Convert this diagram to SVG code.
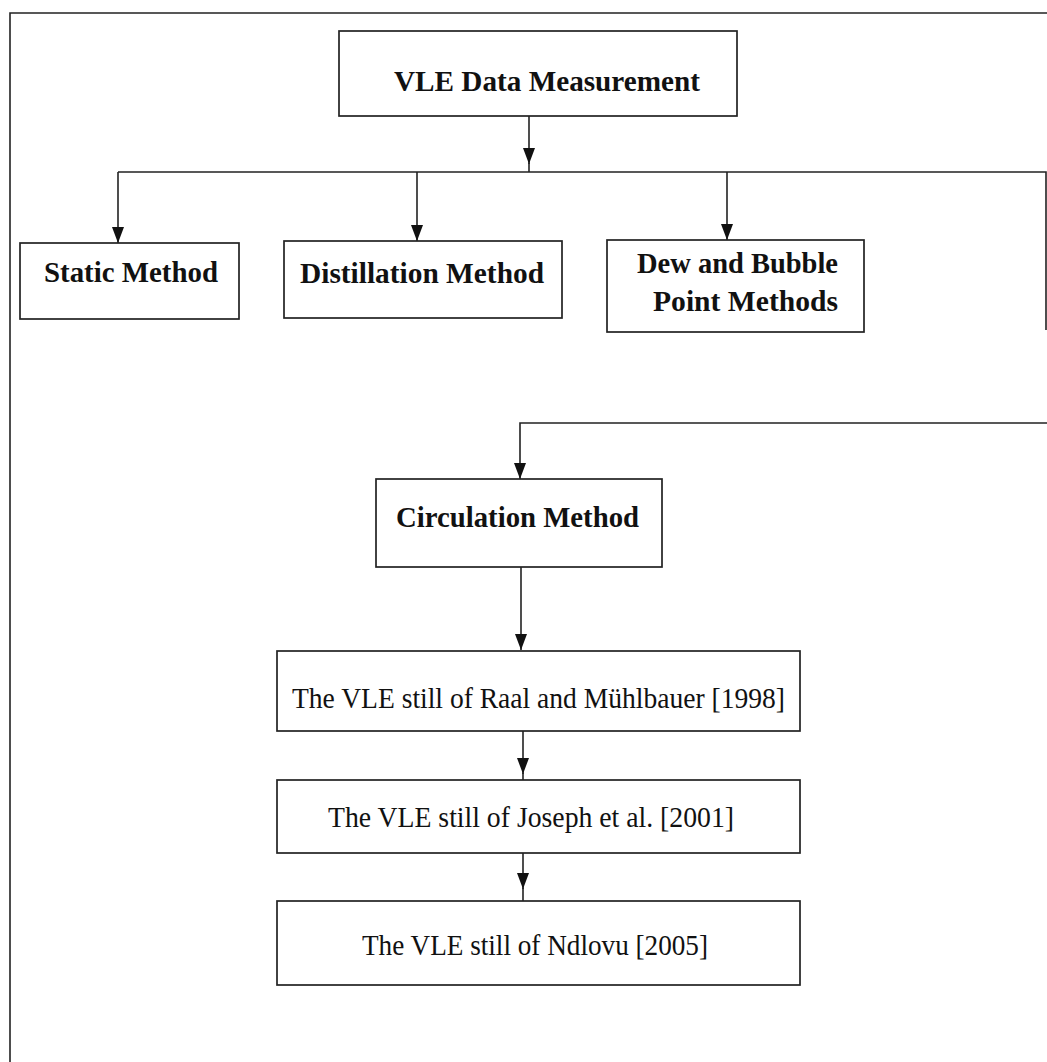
<svg xmlns="http://www.w3.org/2000/svg" width="1047" height="1062" viewBox="0 0 1047 1062">
<style>
.box{fill:#fff;stroke:#222;stroke-width:1.7}
.ln{fill:none;stroke:#222;stroke-width:1.6}
.b{font-family:"Liberation Serif","Times New Roman",serif;font-weight:bold;font-size:29px;fill:#111}
.r{font-family:"Liberation Serif","Times New Roman",serif;font-size:29px;fill:#111}
</style>
<defs>
<marker id="ah" viewBox="0 0 16 12" refX="16" refY="6" markerWidth="16" markerHeight="12" markerUnits="userSpaceOnUse" orient="auto">
<path d="M0,0 L16,6 L0,12 z" fill="#111"/>
</marker>
</defs>
<rect width="1047" height="1062" fill="#fff"/>
<g id="frame">
<path class="ln" d="M10,1062 L10,13 L1047,13"/>
</g>
<g id="connectors">
<path class="ln" d="M529,116 L529,164" marker-end="url(#ah)"/>
<path class="ln" d="M529,163 L529,172"/>
<path class="ln" d="M118,172 L1046,172 L1046,330"/>
<path class="ln" d="M118,172 L118,243" marker-end="url(#ah)"/>
<path class="ln" d="M417,172 L417,241" marker-end="url(#ah)"/>
<path class="ln" d="M727,172 L727,240" marker-end="url(#ah)"/>
<path class="ln" d="M1047,423 L520,423 L520,479" marker-end="url(#ah)"/>
<path class="ln" d="M521,567 L521,650" marker-end="url(#ah)"/>
<path class="ln" d="M523,731 L523,774" marker-end="url(#ah)"/>
<path class="ln" d="M523,773 L523,780"/>
<path class="ln" d="M523,853 L523,889" marker-end="url(#ah)"/>
<path class="ln" d="M523,888 L523,901"/>
</g>
<g id="vle">
<rect class="box" x="339" y="31" width="398" height="85"/>
<text class="b" x="394" y="91" textLength="306" lengthAdjust="spacingAndGlyphs">VLE Data Measurement</text>
</g>
<g id="static">
<rect class="box" x="20" y="243" width="219" height="76"/>
<text class="b" x="44" y="282" textLength="174" lengthAdjust="spacingAndGlyphs">Static Method</text>
</g>
<g id="distillation">
<rect class="box" x="284" y="241" width="278" height="77"/>
<text class="b" x="300" y="283" textLength="244" lengthAdjust="spacingAndGlyphs">Distillation Method</text>
</g>
<g id="dew">
<rect class="box" x="607" y="240" width="257" height="92"/>
<text class="b" x="637" y="273" textLength="201" lengthAdjust="spacingAndGlyphs">Dew and Bubble</text>
<text class="b" x="653" y="311" textLength="185" lengthAdjust="spacingAndGlyphs">Point Methods</text>
</g>
<g id="circulation">
<rect class="box" x="376" y="479" width="286" height="88"/>
<text class="b" x="396" y="527" textLength="243" lengthAdjust="spacingAndGlyphs">Circulation Method</text>
</g>
<g id="raal">
<rect class="box" x="277" y="651" width="523" height="80"/>
<text class="r" x="292" y="708" textLength="493" lengthAdjust="spacingAndGlyphs">The VLE still of Raal and Mühlbauer [1998]</text>
</g>
<g id="joseph">
<rect class="box" x="277" y="780" width="523" height="73"/>
<text class="r" x="328" y="827" textLength="406" lengthAdjust="spacingAndGlyphs">The VLE still of Joseph et al. [2001]</text>
</g>
<g id="ndlovu">
<rect class="box" x="277" y="901" width="523" height="84"/>
<text class="r" x="362" y="955" textLength="346" lengthAdjust="spacingAndGlyphs">The VLE still of Ndlovu [2005]</text>
</g>
</svg>
